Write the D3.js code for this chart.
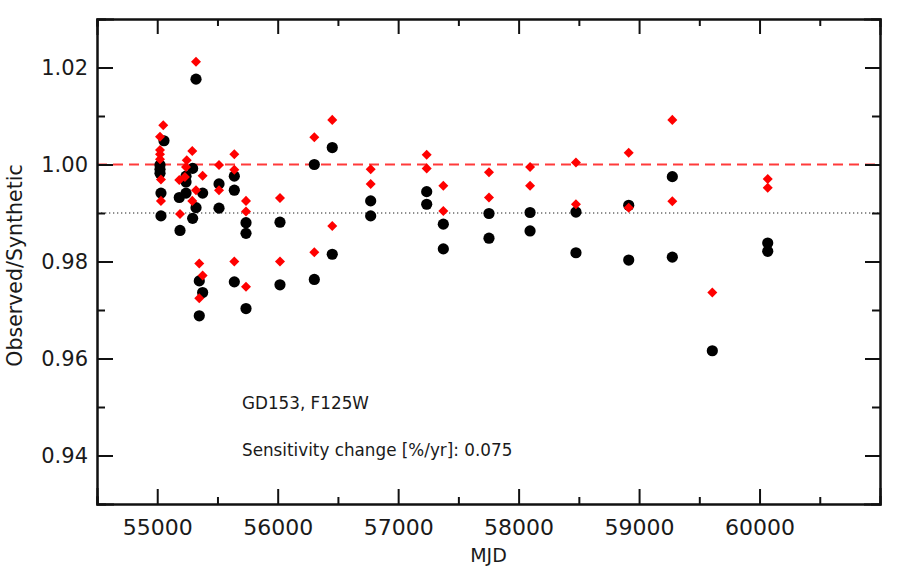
<!DOCTYPE html>
<html>
<head>
<meta charset="utf-8">
<script src="https://cdn.jsdelivr.net/npm/d3@7"></script>
<style>
	body { margin: 0; background: #fff; }
	text { font-family: "DejaVu Sans", sans-serif; fill: #1a1a1a; }
	.axis path, .axis line { stroke: #111; stroke-width: 2; }
</style>
</head>
<body>
<div id="svg-div"></div>
<script>
// Observed/Synthetic ratio, raw (black circles)
var blackMjd = [55056, 55023, 55023, 55023, 55031, 55031, 55183, 55189, 55239, 55239, 55239,
	55294, 55294, 55322, 55322, 55349, 55349, 55377, 55377, 55513, 55513, 55640, 55640, 55640,
	55737, 55737, 55737, 56019, 56019, 56304, 56304, 56453, 56453, 56772, 56772, 57237, 57237,
	57375, 57375, 57754, 57754, 58095, 58095, 58476, 58476, 58914, 58914, 59276, 59276, 59608,
	60068, 60068];
var blackRatio = [1.0049, 0.9999, 0.9990, 0.9982, 0.9941, 0.9894, 0.9932, 0.9864, 0.9976, 0.9964, 0.9941,
	0.9992, 0.9889, 1.0176, 0.9911, 0.9760, 0.9688, 0.9941, 0.9736, 0.9960, 0.9910, 0.9976, 0.9947, 0.9758,
	0.9880, 0.9858, 0.9703, 0.9881, 0.9752, 1.0000, 0.9763, 1.0035, 0.9815, 0.9925, 0.9894, 0.9944, 0.9918,
	0.9877, 0.9826, 0.9899, 0.9848, 0.9901, 0.9863, 0.9902, 0.9818, 0.9916, 0.9803, 0.9975, 0.9809, 0.9616,
	0.9838, 0.9821];

// corrected for sensitivity change (red diamonds)
var redMjd = [55050, 55023, 55023, 55023, 55023, 55031, 55031, 55183, 55189, 55245, 55239, 55230,
	55291, 55291, 55322, 55322, 55349, 55349, 55377, 55377, 55513, 55513, 55640, 55640, 55640,
	55737, 55737, 55737, 56019, 56019, 56304, 56304, 56453, 56453, 56772, 56772, 57237, 57237,
	57375, 57375, 57754, 57754, 58095, 58095, 58476, 58476, 58914, 58914, 59276, 59276, 59608,
	60068, 60068];
var redRatio = [1.0081, 1.0057, 1.0030, 1.0021, 1.0011, 0.9969, 0.9925, 0.9968, 0.9898, 1.0009, 0.9995, 0.9974,
	1.0028, 0.9925, 1.0212, 0.9947, 0.9796, 0.9724, 0.9977, 0.9771, 0.9999, 0.9947, 1.0021, 0.9989, 0.9800,
	0.9925, 0.9903, 0.9748, 0.9931, 0.9800, 1.0056, 0.9819, 1.0092, 0.9873, 0.9990, 0.9960, 1.0020, 0.9992,
	0.9956, 0.9904, 0.9984, 0.9932, 0.9995, 0.9956, 1.0004, 0.9918, 1.0024, 0.9911, 1.0092, 0.9924, 0.9736,
	0.9970, 0.9952];

var xMajorTicks = [55000, 56000, 57000, 58000, 59000, 60000];
var xMinorTicks = [54500, 55500, 56500, 57500, 58500, 59500, 60500];
var yMajorTicks = [0.94, 0.96, 0.98, 1.00, 1.02];
var yMinorTicks = [0.95, 0.97, 0.99, 1.01];
var refRatio = 1.00;
var meanRatio = 0.99;
var labelLines = ["GD153, F125W", "Sensitivity change [%/yr]: 0.075"];

var chartProperties = {
	outerWidth: 901,
	outerheight: 588,
	margin: { top: 19, right: 21, bottom: 84, left: 97 }
};
chartProperties.width = chartProperties.outerWidth - chartProperties.margin.left - chartProperties.margin.right;
chartProperties.height = chartProperties.outerheight - chartProperties.margin.top - chartProperties.margin.bottom;

var svg = d3.select("#svg-div")
	.append("svg")
	.attr("width", chartProperties.outerWidth)
	.attr("height", chartProperties.outerheight)
	.append("g")
	.attr("transform", "translate(" + chartProperties.margin.left + "," + chartProperties.margin.top + ")");

// Scale
var xScale = d3.scaleLinear()
	.domain([54500, 61000])
	.range([0, chartProperties.width]);

var yScale = d3.scaleLinear()
	.domain([0.93, 1.03])
	.range([chartProperties.height, 0]);

// reference lines
svg.append("line")
	.attr("x1", 0).attr("x2", chartProperties.width)
	.attr("y1", yScale(refRatio)).attr("y2", yScale(refRatio))
	.attr("stroke", "#ff3a3a")
	.attr("stroke-width", 2)
	.attr("stroke-dasharray", "10,6");

svg.append("line")
	.attr("x1", 0).attr("x2", chartProperties.width)
	.attr("y1", yScale(meanRatio)).attr("y2", yScale(meanRatio))
	.attr("stroke", "#222")
	.attr("stroke-width", 1.2)
	.attr("stroke-dasharray", "1.3,2.7");

// Axis (ticks pointing inwards, IDL style)
function addAxis(axis, tx, ty, cls) {
	return svg.append("g")
		.attr("class", "axis " + cls)
		.attr("transform", "translate(" + tx + "," + ty + ")")
		.call(axis);
}

addAxis(d3.axisBottom(xScale).tickValues(xMajorTicks).tickSize(-15).tickPadding(15).tickFormat(d3.format("d")),
	0, chartProperties.height, "xb");
addAxis(d3.axisBottom(xScale).tickValues(xMinorTicks).tickSize(-7).tickFormat(""),
	0, chartProperties.height, "xbm");
addAxis(d3.axisTop(xScale).tickValues(xMajorTicks).tickSize(-15).tickFormat(""), 0, 0, "xt");
addAxis(d3.axisTop(xScale).tickValues(xMinorTicks).tickSize(-7).tickFormat(""), 0, 0, "xtm");

addAxis(d3.axisLeft(yScale).tickValues(yMajorTicks).tickSize(-16).tickPadding(9).tickFormat(d3.format(".2f")),
	0, 0, "yl");
addAxis(d3.axisLeft(yScale).tickValues(yMinorTicks).tickSize(-8).tickFormat(""), 0, 0, "ylm");
addAxis(d3.axisRight(yScale).tickValues(yMajorTicks).tickSize(-15).tickFormat(""), chartProperties.width, 0, "yr");
addAxis(d3.axisRight(yScale).tickValues(yMinorTicks).tickSize(-8).tickFormat(""), chartProperties.width, 0, "yrm");

svg.selectAll(".axis path").attr("stroke-linecap", "square");
svg.selectAll(".xb text").style("font-size", "22px");
svg.selectAll(".yl text").style("font-size", "21px");

// axis titles
svg.append("text")
	.attr("x", chartProperties.width / 2)
	.attr("y", chartProperties.height + 58)
	.attr("text-anchor", "middle")
	.style("font-size", "19px")
	.text("MJD");

svg.append("text")
	.attr("transform", "translate(" + (-75) + "," + (chartProperties.height / 2 + 4) + ") rotate(-90)")
	.attr("text-anchor", "middle")
	.style("font-size", "20.5px")
	.text("Observed/Synthetic");

// Scatter points
var blackData = blackMjd.map(function(m, i) { return { mjd: m, r: blackRatio[i] }; });
var redData = redMjd.map(function(m, i) { return { mjd: m, r: redRatio[i] }; });

svg.selectAll("circle.obs")
	.data(blackData)
	.enter()
	.append("circle")
	.attr("class", "obs")
	.attr("r", 5.6)
	.attr("cx", function(d) { return xScale(d.mjd); })
	.attr("cy", function(d) { return yScale(d.r); })
	.attr("fill", "#000");

var diamond = d3.symbol().type(d3.symbolDiamond2).size(64);
svg.selectAll("path.corr")
	.data(redData)
	.enter()
	.append("path")
	.attr("class", "corr")
	.attr("d", diamond)
	.attr("transform", function(d) {
		return "translate(" + xScale(d.mjd) + "," + yScale(d.r) + ")";
	})
	.attr("fill", "#ff0000");

// annotation
svg.selectAll("text.note")
	.data(labelLines)
	.enter()
	.append("text")
	.attr("class", "note")
	.attr("x", 145)
	.attr("y", function(d, i) { return 390 + i * 47; })
	.style("font-size", "16.8px")
	.text(function(d) { return d; });
</script>
</body>
</html>
